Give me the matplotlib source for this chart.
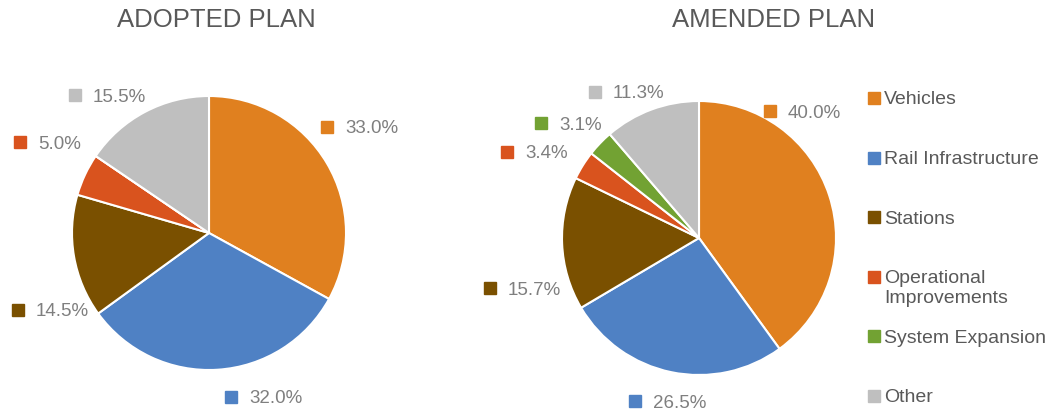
import matplotlib
matplotlib.use("Agg")
import matplotlib.pyplot as plt

categories = ["Vehicles", "Rail Infrastructure", "Stations",
              "Operational\nImprovements", "System Expansion", "Other"]
adopted = [33.0, 32.0, 14.5, 5.0, 0.0, 15.5]
amended = [40.0, 26.5, 15.7, 3.4, 3.1, 11.3]
titles = ["ADOPTED PLAN", "AMENDED PLAN"]

colors = ["#E0801F", "#4F81C4", "#7A5000", "#D9531E", "#72A233", "#BFBFBF"]
TEXT = "#595959"
LABEL = "#7F7F7F"
FONT = "Liberation Sans"

# label marker positions in pie-radius units (layout)
adopted_label_pos = [(0.861, 0.774), (0.161, -1.197), (-1.394, -0.562),
                     (-1.380, 0.664), None, (-0.978, 1.007)]
amended_label_pos = [(0.518, 0.927), (-0.467, -1.190), (-1.526, -0.365),
                     (-1.401, 0.628), (-1.153, 0.839), (-0.759, 1.066)]

W, H = 1049, 413
fig = plt.figure(figsize=(W / 100, H / 100), dpi=100)
fig.patch.set_facecolor("white")

# overlay in pixel coordinates for titles and legend
ov = fig.add_axes([0, 0, 1, 1])
ov.set_xlim(0, W)
ov.set_ylim(H, 0)
ov.axis("off")


def pie_axes(cx, cy, r):
    return fig.add_axes([(cx - r) / W, (H - cy - r) / H, 2 * r / W, 2 * r / H])


def draw_pie(ax, values, label_pos):
    ax.pie(values, colors=colors, startangle=90, counterclock=False,
           radius=1.0, wedgeprops=dict(edgecolor="white", linewidth=1.5))
    ax.set_xlim(-1, 1)
    ax.set_ylim(-1, 1)
    ax.set_aspect("equal")
    ax.axis("off")
    for v, c, pos in zip(values, colors, label_pos):
        if pos is None or v <= 0:
            continue
        x, y = pos
        ax.plot([x], [y], marker="s", markersize=8, color=c,
                linestyle="none", clip_on=False)
        ax.annotate(f"{v:.1f}%", (x, y), xytext=(13, 0),
                    textcoords="offset points", ha="left",
                    va="center_baseline",
                    fontsize=13.5, color=LABEL, family=FONT,
                    annotation_clip=False)


ax1 = pie_axes(209, 233, 137)
draw_pie(ax1, adopted, adopted_label_pos)
ax2 = pie_axes(699, 238, 137)
draw_pie(ax2, amended, amended_label_pos)

ov.text(216, 20, titles[0], ha="center", va="center",
        fontsize=18.5, color=TEXT, family=FONT)
ov.text(774, 20, titles[1], ha="center", va="center",
        fontsize=18.5, color=TEXT, family=FONT)

# legend: equal pitch entries, multi-line labels hang below first line
leg_x, leg_y0, leg_pitch = 873.5, 98, 59.6
for i, (name, c) in enumerate(zip(categories, colors)):
    y = leg_y0 + i * leg_pitch
    ov.plot([leg_x], [y], marker="s", markersize=8, color=c,
            linestyle="none")
    ov.text(leg_x + 10.5, y - 6.5, name, ha="left", va="top",
            fontsize=14, color=TEXT, family=FONT, linespacing=1.2)

fig.savefig("out.png", dpi=100, facecolor="white")
